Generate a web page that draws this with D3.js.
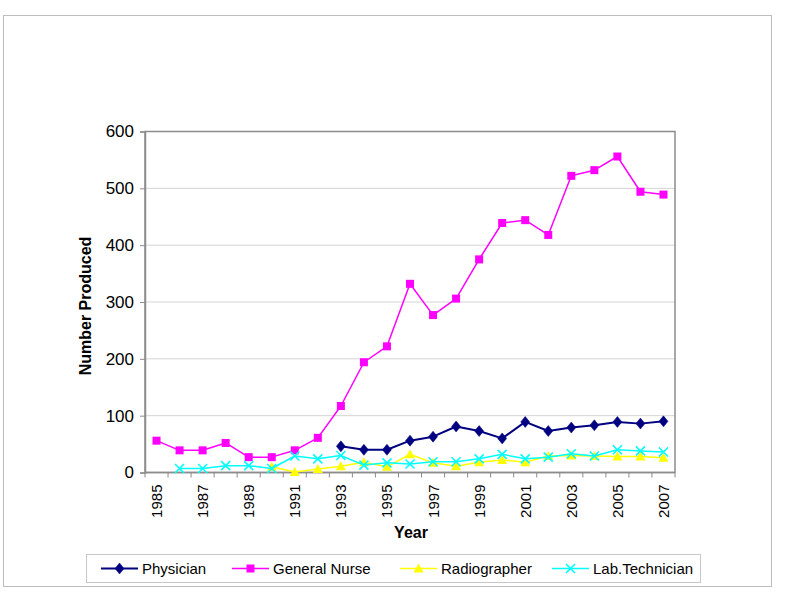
<!DOCTYPE html>
<html>
<head>
<meta charset="utf-8">
<script src="https://cdn.jsdelivr.net/npm/d3@7"></script>
<style>
  html, body { margin: 0; padding: 0; background: #fff; }
  svg { display: block; font-family: "Liberation Sans", Arial, sans-serif; }
</style>
</head>
<body>
<svg id="chart" width="785" height="596"></svg>
<script>
const years = ["1985","1986","1987","1988","1989","1990","1991","1992","1993","1994","1995","1996","1997","1998","1999","2000","2001","2002","2003","2004","2005","2006","2007"];
const yearLabels = ["1985","1987","1989","1991","1993","1995","1997","1999","2001","2003","2005","2007"];
const yTicks = [0, 100, 200, 300, 400, 500, 600];

const physician     = [null,null,null,null,null,null,null,null,46,40,40,56,63,81,73,60,89,73,79,83,89,86,90];
const generalNurse  = [56,39,39,52,27,27,39,61,117,194,222,332,277,306,375,439,444,418,522,532,556,494,489];
const radiographer  = [null,null,null,null,null,10,1,6,11,18,10,32,17,11,18,22,18,29,30,29,28,28,26];
const labTechnician = [null,7,7,12,12,7,29,24,30,13,17,15,19,19,24,32,24,27,33,29,40,38,36];

const seriesNames  = ["Physician","General Nurse","Radiographer","Lab.Technician"];
const seriesValues = [physician, generalNurse, radiographer, labTechnician];
const seriesColors = ["#000080","#FF00FF","#FFFF00","#00FFFF"];
const seriesMarkers = ["diamond","square","triangle","x"];

const svg = d3.select("#chart");
const W = 785, H = 596;
svg.append("rect").attr("width", W).attr("height", H).attr("fill", "#fff");

// outer chart border
svg.append("rect")
  .attr("x", 3.5).attr("y", 15.5).attr("width", 768).attr("height", 571)
  .attr("fill", "none").attr("stroke", "#bdbdbd").attr("stroke-width", 1);

const plot = { left: 145, right: 675, top: 131.5, bottom: 472.5 };

const x = d3.scaleBand().domain(years).range([plot.left, plot.right]).padding(0);
const y = d3.scaleLinear().domain([0, 600]).range([plot.bottom, plot.top]);
const cx = d => x(d) + x.bandwidth() / 2;

// gridlines
svg.append("g").selectAll("line").data(yTicks.filter(t => t > 0)).join("line")
  .attr("x1", plot.left).attr("x2", plot.right)
  .attr("y1", d => y(d)).attr("y2", d => y(d))
  .attr("stroke", "#d4d4d4").attr("stroke-width", 1);

// plot border
svg.append("rect")
  .attr("x", plot.left).attr("y", plot.top)
  .attr("width", plot.right - plot.left).attr("height", plot.bottom - plot.top)
  .attr("fill", "none").attr("stroke", "#8c8c8c").attr("stroke-width", 1.5);

// y axis
const yAxis = d3.axisLeft(y).tickValues(yTicks).tickSize(5).tickPadding(6);
const gy = svg.append("g").attr("transform", `translate(${plot.left},0)`).call(yAxis);
gy.select(".domain").attr("stroke", "#8c8c8c").attr("stroke-width", 1.5);
gy.selectAll(".tick line").attr("stroke", "#8c8c8c");
gy.selectAll(".tick text").attr("font-size", 17).attr("fill", "#000")
  .attr("font-family", "Liberation Sans, Arial, sans-serif");

// x axis: ticks at category boundaries
const boundaries = years.map(d => x(d)).concat([plot.right]);
svg.append("g").selectAll("line").data(boundaries).join("line")
  .attr("x1", d => d).attr("x2", d => d)
  .attr("y1", plot.bottom).attr("y2", plot.bottom + 5)
  .attr("stroke", "#8c8c8c").attr("stroke-width", 1);
svg.append("line").attr("x1", plot.left).attr("x2", plot.right)
  .attr("y1", plot.bottom).attr("y2", plot.bottom)
  .attr("stroke", "#8c8c8c").attr("stroke-width", 1.5);

svg.append("g").selectAll("text").data(yearLabels).join("text")
  .attr("transform", d => `translate(${cx(d) + 5.5},${plot.bottom + 12}) rotate(-90)`)
  .attr("text-anchor", "end")
  .attr("font-size", 15)
  .attr("fill", "#000")
  .text(d => d);

// axis titles
svg.append("text")
  .attr("x", 411).attr("y", 538)
  .attr("text-anchor", "middle").attr("font-weight", "bold").attr("font-size", 16)
  .text("Year");
svg.append("text")
  .attr("transform", `translate(91,${(plot.top + plot.bottom) / 2 + 4}) rotate(-90)`)
  .attr("text-anchor", "middle").attr("font-weight", "bold").attr("font-size", 16)
  .text("Number Produced");

// marker drawing
function drawMarker(g, type, color, px, py, s) {
  if (type === "diamond") {
    g.append("path").attr("d", `M${px},${py - 5.5}L${px + 4.5},${py}L${px},${py + 5.5}L${px - 4.5},${py}Z`)
      .attr("fill", color).attr("stroke", color).attr("stroke-width", 0.5);
  } else if (type === "square") {
    g.append("rect").attr("x", px - 4).attr("y", py - 4).attr("width", 8).attr("height", 8)
      .attr("fill", color);
  } else if (type === "triangle") {
    g.append("path").attr("d", `M${px},${py - 5}L${px + 5},${py + 4}L${px - 5},${py + 4}Z`)
      .attr("fill", color);
  } else if (type === "x") {
    g.append("path").attr("d", `M${px - 4.5},${py - 4.5}L${px + 4.5},${py + 4.5}M${px - 4.5},${py + 4.5}L${px + 4.5},${py - 4.5}`)
      .attr("stroke", color).attr("stroke-width", 1.6).attr("fill", "none");
  }
}

// series
const line = d3.line()
  .defined(d => d.v !== null)
  .x(d => cx(d.year))
  .y(d => y(d.v));

const drawOrder = [0, 1, 2, 3];
drawOrder.forEach(i => {
  const data = years.map((yr, j) => ({ year: yr, v: seriesValues[i][j] }));
  const g = svg.append("g");
  g.append("path").datum(data).attr("d", line)
    .attr("fill", "none").attr("stroke", seriesColors[i])
    .attr("stroke-width", i === 0 ? 2 : 1.5).attr("stroke-linejoin", "round");
  data.filter(d => d.v !== null).forEach(d => {
    drawMarker(g, seriesMarkers[i], seriesColors[i], cx(d.year), y(d.v));
  });
});

// legend
const legend = svg.append("g");
legend.append("rect")
  .attr("x", 86.5).attr("y", 554.5).attr("width", 614).attr("height", 28)
  .attr("fill", "#fff").attr("stroke", "#c8c8c8").attr("stroke-width", 1);
const legendX = [101, 232, 400, 552];
seriesNames.forEach((name, i) => {
  const lx = legendX[i], ly = 568.5;
  legend.append("line").attr("x1", lx).attr("x2", lx + 37).attr("y1", ly).attr("y2", ly)
    .attr("stroke", seriesColors[i]).attr("stroke-width", i === 0 ? 2 : 1.5);
  drawMarker(legend, seriesMarkers[i], seriesColors[i], lx + 18.5, ly);
  legend.append("text").attr("x", lx + 41).attr("y", ly + 5.5)
    .attr("font-size", 15).attr("fill", "#000").text(name);
});
</script>
</body>
</html>
